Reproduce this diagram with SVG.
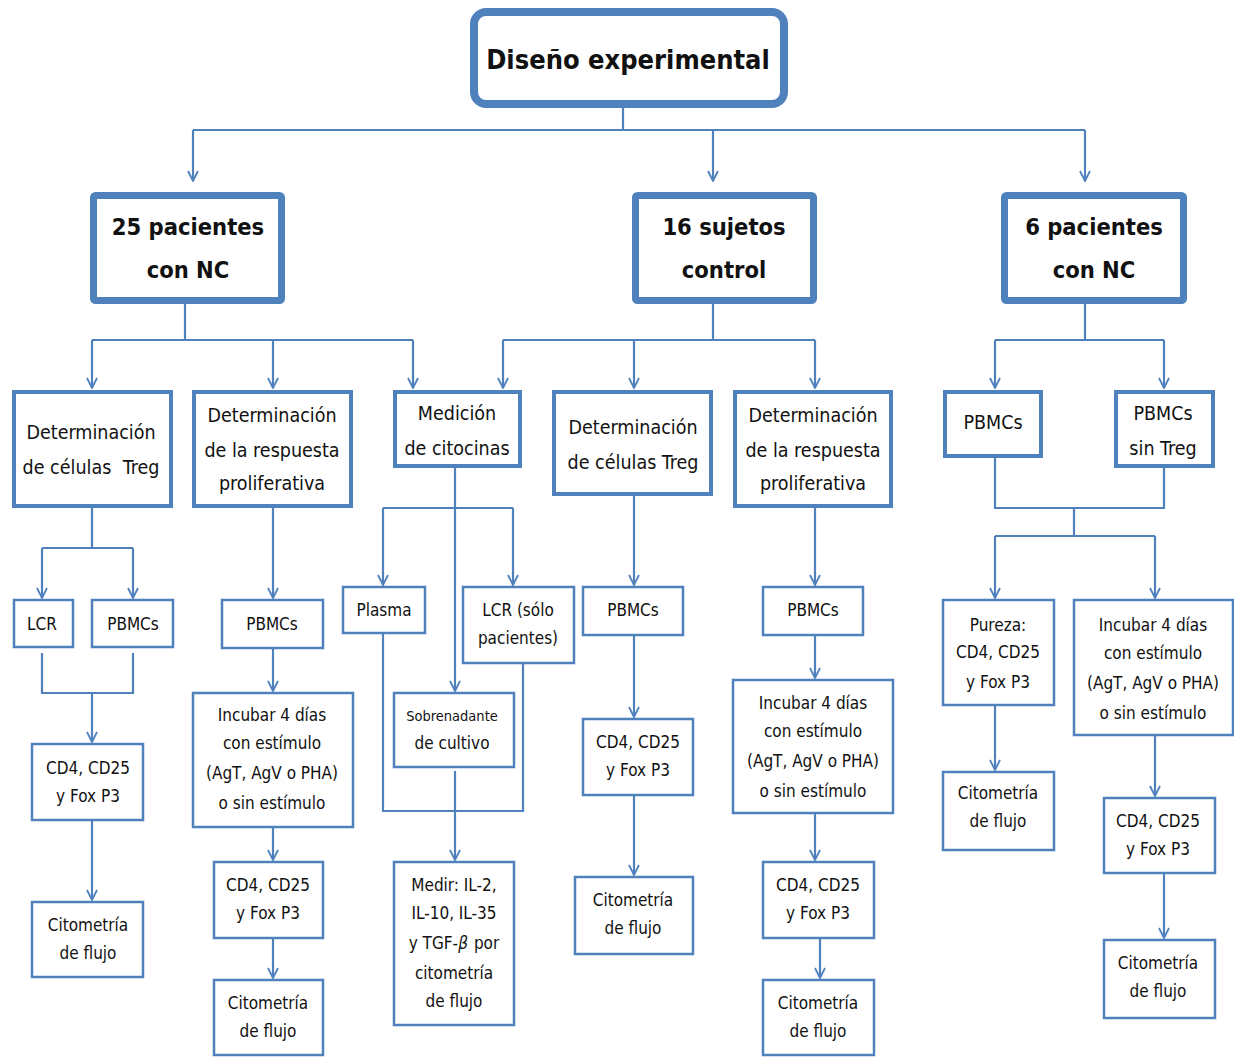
<svg xmlns="http://www.w3.org/2000/svg" width="1234" height="1057" viewBox="0 0 1234 1057">
<style>
.b{fill:#fff;stroke:#4F81BD}
.t0{stroke-width:8}
.t1{stroke-width:7}
.t2{stroke-width:4}
.t3{stroke-width:2.5}
text{font-family:"Liberation Sans Narrow","DejaVu Sans Condensed","Liberation Sans",sans-serif;fill:#111;text-anchor:middle}
.h0{font-size:27px;font-weight:bold}
.h1{font-size:23.5px;font-weight:bold}
.h2{font-size:19.5px}
.h3{font-size:17px}
.c{fill:none;stroke:#4F81BD;stroke-width:2.2}
</style>
<defs>
<marker id="a" viewBox="0 0 12 12" refX="11" refY="6" markerWidth="12" markerHeight="12" markerUnits="userSpaceOnUse" orient="auto">
<path d="M1,1 L11,6 L1,11" fill="none" stroke="#4F81BD" stroke-width="1.8"/>
</marker>
</defs>
<g id="connectors">
<path class="c" d="M623,108 V130 M193,130 H1085"/>
<path class="c" d="M193,130 V181" marker-end="url(#a)"/>
<path class="c" d="M713,130 V181" marker-end="url(#a)"/>
<path class="c" d="M1085,130 V181" marker-end="url(#a)"/>
<path class="c" d="M185,304 V340 M92,340 H413"/>
<path class="c" d="M92,340 V388" marker-end="url(#a)"/>
<path class="c" d="M273,340 V388" marker-end="url(#a)"/>
<path class="c" d="M413,340 V388" marker-end="url(#a)"/>
<path class="c" d="M713,304 V340 M503,340 H815"/>
<path class="c" d="M503,340 V388" marker-end="url(#a)"/>
<path class="c" d="M634,340 V388" marker-end="url(#a)"/>
<path class="c" d="M815,340 V388" marker-end="url(#a)"/>
<path class="c" d="M1085,304 V340 M995,340 H1164"/>
<path class="c" d="M995,340 V388" marker-end="url(#a)"/>
<path class="c" d="M1164,340 V388" marker-end="url(#a)"/>
<path class="c" d="M92,508 V548 M42,548 H133"/>
<path class="c" d="M42,548 V598" marker-end="url(#a)"/>
<path class="c" d="M133,548 V598" marker-end="url(#a)"/>
<path class="c" d="M42,653 V693 H133 V653"/>
<path class="c" d="M92,693 V742" marker-end="url(#a)"/>
<path class="c" d="M92,820 V900" marker-end="url(#a)"/>
<path class="c" d="M273,508 V598" marker-end="url(#a)"/>
<path class="c" d="M273,648 V691" marker-end="url(#a)"/>
<path class="c" d="M273,827 V860" marker-end="url(#a)"/>
<path class="c" d="M273,938 V978" marker-end="url(#a)"/>
<path class="c" d="M455,468 V691" marker-end="url(#a)"/>
<path class="c" d="M383,508 H513"/>
<path class="c" d="M383,508 V585" marker-end="url(#a)"/>
<path class="c" d="M513,508 V585" marker-end="url(#a)"/>
<path class="c" d="M383,633 V811 H523 V663"/>
<path class="c" d="M455,771 V860" marker-end="url(#a)"/>
<path class="c" d="M634,496 V585" marker-end="url(#a)"/>
<path class="c" d="M634,635 V717" marker-end="url(#a)"/>
<path class="c" d="M634,795 V875" marker-end="url(#a)"/>
<path class="c" d="M815,508 V585" marker-end="url(#a)"/>
<path class="c" d="M815,635 V678" marker-end="url(#a)"/>
<path class="c" d="M815,813 V860" marker-end="url(#a)"/>
<path class="c" d="M820,938 V978" marker-end="url(#a)"/>
<path class="c" d="M995,458 V508 H1164 V468 M1074,508 V536 M995,536 H1155"/>
<path class="c" d="M995,536 V598" marker-end="url(#a)"/>
<path class="c" d="M1155,536 V598" marker-end="url(#a)"/>
<path class="c" d="M995,705 V770" marker-end="url(#a)"/>
<path class="c" d="M1155,735 V796" marker-end="url(#a)"/>
<path class="c" d="M1164,873 V938" marker-end="url(#a)"/>
</g>
<g id="n-top"><rect class="b t0" x="474" y="12" width="310" height="92" rx="12"/><text class="h0" x="628" y="69">Diseño experimental</text></g>
<g id="n-25"><rect class="b t1" x="93.5" y="195.5" width="188" height="105" rx="2"/><text class="h1" x="188" y="235">25 pacientes</text><text class="h1" x="188" y="278">con NC</text></g>
<g id="n-16"><rect class="b t1" x="635.5" y="195.5" width="178" height="105" rx="2"/><text class="h1" x="724" y="235">16 sujetos</text><text class="h1" x="724" y="278">control</text></g>
<g id="n-6"><rect class="b t1" x="1004.5" y="195.5" width="179" height="105" rx="2"/><text class="h1" x="1094" y="235">6 pacientes</text><text class="h1" x="1094" y="278">con NC</text></g>
<g id="n-treg1"><rect class="b t2" x="14" y="392" width="157" height="114"/><text class="h2" x="91" y="439">Determinación</text><text class="h2" x="91" y="474">de células <tspan dx="6">Treg</tspan></text></g>
<g id="n-prol1"><rect class="b t2" x="194" y="392" width="157" height="114"/><text class="h2" x="272" y="422">Determinación</text><text class="h2" x="272" y="457">de la respuesta</text><text class="h2" x="272" y="490">proliferativa</text></g>
<g id="n-med"><rect class="b t2" x="395" y="392" width="125" height="74"/><text class="h2" x="457" y="420">Medición</text><text class="h2" x="457" y="455">de citocinas</text></g>
<g id="n-treg2"><rect class="b t2" x="554" y="392" width="157" height="102"/><text class="h2" x="633" y="434">Determinación</text><text class="h2" x="633" y="469">de células Treg</text></g>
<g id="n-prol2"><rect class="b t2" x="735" y="392" width="156" height="114"/><text class="h2" x="813" y="422">Determinación</text><text class="h2" x="813" y="457">de la respuesta</text><text class="h2" x="813" y="490">proliferativa</text></g>
<g id="n-pbmc6"><rect class="b t2" x="945" y="392" width="96" height="64"/><text class="h2" x="993" y="429">PBMCs</text></g>
<g id="n-pbmcsin"><rect class="b t2" x="1116" y="392" width="97" height="74"/><text class="h2" x="1163" y="420">PBMCs</text><text class="h2" x="1163" y="455">sin Treg</text></g>
<g id="n-lcr1"><rect class="b t3" x="14" y="600" width="59" height="47"/><text class="h3" x="42" y="630">LCR</text></g>
<g id="n-pbmc1"><rect class="b t3" x="92" y="600" width="81" height="47"/><text class="h3" x="133" y="630">PBMCs</text></g>
<g id="n-cd1"><rect class="b t3" x="32" y="744" width="111" height="76"/><text class="h3" x="88" y="774">CD4, CD25</text><text class="h3" x="88" y="802">y Fox P3</text></g>
<g id="n-cit1"><rect class="b t3" x="32" y="902" width="111" height="75"/><text class="h3" x="88" y="931">Citometría</text><text class="h3" x="88" y="959">de flujo</text></g>
<g id="n-pbmc2"><rect class="b t3" x="222" y="600" width="101" height="48"/><text class="h3" x="272" y="630">PBMCs</text></g>
<g id="n-inc1"><rect class="b t3" x="193" y="693" width="160" height="134"/><text class="h3" x="272" y="721">Incubar 4 días</text><text class="h3" x="272" y="749">con estímulo</text><text class="h3" x="272" y="779">(AgT, AgV o PHA)</text><text class="h3" x="272" y="809">o sin estímulo</text></g>
<g id="n-cd2"><rect class="b t3" x="214" y="862" width="109" height="76"/><text class="h3" x="268" y="891">CD4, CD25</text><text class="h3" x="268" y="919">y Fox P3</text></g>
<g id="n-cit2"><rect class="b t3" x="214" y="980" width="109" height="75"/><text class="h3" x="268" y="1009">Citometría</text><text class="h3" x="268" y="1037">de flujo</text></g>
<g id="n-plasma"><rect class="b t3" x="343" y="587" width="82" height="46"/><text class="h3" x="384" y="616">Plasma</text></g>
<g id="n-lcr2"><rect class="b t3" x="463" y="587" width="111" height="76"/><text class="h3" x="518" y="616">LCR (sólo</text><text class="h3" x="518" y="644">pacientes)</text></g>
<g id="n-sob"><rect class="b t3" x="394" y="693" width="120" height="74"/><text x="452" y="721" style="font-size:14.5px">Sobrenadante</text><text class="h3" x="452" y="749">de cultivo</text></g>
<g id="n-medir"><rect class="b t3" x="394" y="862" width="120" height="163"/><text class="h3" x="454" y="891">Medir: IL-2,</text><text class="h3" x="454" y="919">IL-10, IL-35</text><text class="h3" x="454" y="949">y TGF-<tspan font-style="italic">β</tspan><tspan dx="6">por</tspan></text><text class="h3" x="454" y="979">citometría</text><text class="h3" x="454" y="1007">de flujo</text></g>
<g id="n-pbmc3"><rect class="b t3" x="583" y="587" width="100" height="48"/><text class="h3" x="633" y="616">PBMCs</text></g>
<g id="n-cd3"><rect class="b t3" x="583" y="719" width="110" height="76"/><text class="h3" x="638" y="748">CD4, CD25</text><text class="h3" x="638" y="776">y Fox P3</text></g>
<g id="n-cit3"><rect class="b t3" x="575" y="877" width="118" height="77"/><text class="h3" x="633" y="906">Citometría</text><text class="h3" x="633" y="934">de flujo</text></g>
<g id="n-pbmc4"><rect class="b t3" x="763" y="587" width="100" height="48"/><text class="h3" x="813" y="616">PBMCs</text></g>
<g id="n-inc2"><rect class="b t3" x="733" y="680" width="160" height="133"/><text class="h3" x="813" y="709">Incubar 4 días</text><text class="h3" x="813" y="737">con estímulo</text><text class="h3" x="813" y="767">(AgT, AgV o PHA)</text><text class="h3" x="813" y="797">o sin estímulo</text></g>
<g id="n-cd4"><rect class="b t3" x="763" y="862" width="111" height="76"/><text class="h3" x="818" y="891">CD4, CD25</text><text class="h3" x="818" y="919">y Fox P3</text></g>
<g id="n-cit4"><rect class="b t3" x="763" y="980" width="111" height="75"/><text class="h3" x="818" y="1009">Citometría</text><text class="h3" x="818" y="1037">de flujo</text></g>
<g id="n-pureza"><rect class="b t3" x="943" y="600" width="111" height="105"/><text class="h3" x="998" y="631">Pureza:</text><text class="h3" x="998" y="658">CD4, CD25</text><text class="h3" x="998" y="688">y Fox P3</text></g>
<g id="n-cit5"><rect class="b t3" x="943" y="772" width="111" height="78"/><text class="h3" x="998" y="799">Citometría</text><text class="h3" x="998" y="827">de flujo</text></g>
<g id="n-inc3"><rect class="b t3" x="1074" y="600" width="159" height="135"/><text class="h3" x="1153" y="631">Incubar 4 días</text><text class="h3" x="1153" y="659">con estímulo</text><text class="h3" x="1153" y="689">(AgT, AgV o PHA)</text><text class="h3" x="1153" y="719">o sin estímulo</text></g>
<g id="n-cd5"><rect class="b t3" x="1104" y="798" width="111" height="75"/><text class="h3" x="1158" y="827">CD4, CD25</text><text class="h3" x="1158" y="855">y Fox P3</text></g>
<g id="n-cit6"><rect class="b t3" x="1104" y="940" width="111" height="78"/><text class="h3" x="1158" y="969">Citometría</text><text class="h3" x="1158" y="997">de flujo</text></g>
</svg>
